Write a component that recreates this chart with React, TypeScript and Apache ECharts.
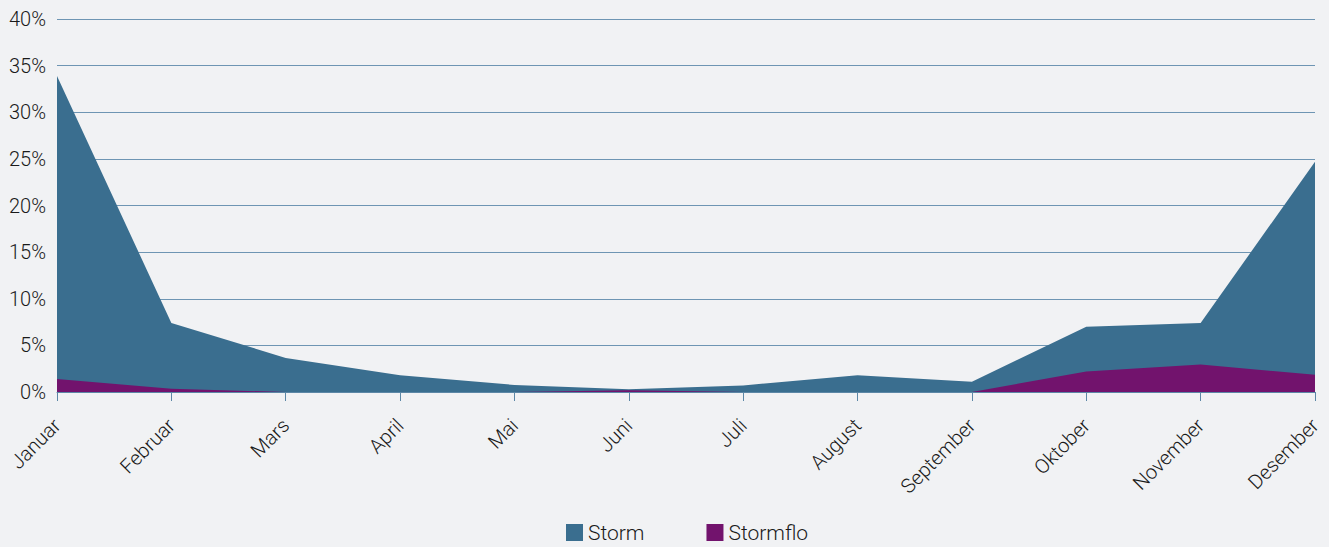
import React, { useEffect, useRef } from "react";
import * as echarts from "echarts";

const months = ["Januar", "Februar", "Mars", "April", "Mai", "Juni", "Juli", "August", "September", "Oktober", "November", "Desember"];
const storm = [33.9, 7.4, 3.65, 1.8, 0.75, 0.3, 0.7, 1.8, 1.1, 7.0, 7.4, 24.7];
const stormflo = [1.4, 0.35, 0, 0, 0, 0.2, 0, 0, 0, 2.2, 2.95, 1.85];
const yTicks = [0, 5, 10, 15, 20, 25, 30, 35, 40];

const FONT = "Roboto";

export default function App() {
  const ref = useRef<HTMLDivElement>(null);
  useEffect(() => {
    if (!ref.current) return;
    const chart = echarts.init(ref.current, null, { renderer: "svg" });
    chart.setOption({
      animation: false,
      backgroundColor: "#f1f2f4",
      textStyle: { fontFamily: FONT },
      grid: { left: 57, right: 14, top: 19, bottom: 155, containLabel: false },
      legend: {
        bottom: -1,
        left: 561,
        itemWidth: 17,
        itemHeight: 17,
        itemGap: 62,
        icon: "rect",
        textStyle: { fontSize: 21, color: "#1a1a1a", fontFamily: FONT, fontWeight: 300 },
        data: ["Storm", "Stormflo"],
      },
      xAxis: {
        type: "category",
        data: months,
        boundaryGap: false,
        axisLine: { show: true, lineStyle: { color: "#5c87a6", width: 1 } },
        axisTick: { show: true, length: 9, lineStyle: { color: "#5c87a6" }, alignWithLabel: true },
        axisLabel: { rotate: 45, fontSize: 20, color: "#1a1a1a", margin: 30, fontFamily: FONT, fontWeight: 300, interval: 0 },
        splitLine: { show: false },
      },
      yAxis: {
        type: "value",
        min: yTicks[0],
        max: yTicks[yTicks.length - 1],
        interval: 5,
        axisLine: { show: false },
        axisTick: { show: false },
        axisLabel: { formatter: "{value}%", fontSize: 20, color: "#1a1a1a", margin: 11, fontFamily: FONT, fontWeight: 300 },
        splitLine: { show: true, lineStyle: { color: "#6e95b3", width: 1 } },
      },
      series: [
        {
          name: "Storm",
          type: "line",
          data: storm,
          symbol: "none",
          lineStyle: { width: 0 },
          itemStyle: { color: "#3a6e8f" },
          areaStyle: { color: "#3a6e8f", opacity: 1 },
          z: 2,
        },
        {
          name: "Stormflo",
          type: "line",
          data: stormflo,
          symbol: "none",
          lineStyle: { width: 0 },
          itemStyle: { color: "#72136d" },
          areaStyle: { color: "#72136d", opacity: 1 },
          z: 3,
        },
      ],
    });
    return () => chart.dispose();
  }, []);
  return <div ref={ref} style={{ width: 1329, height: 547, position: "absolute", left: 0, top: 0 }} />;
}
